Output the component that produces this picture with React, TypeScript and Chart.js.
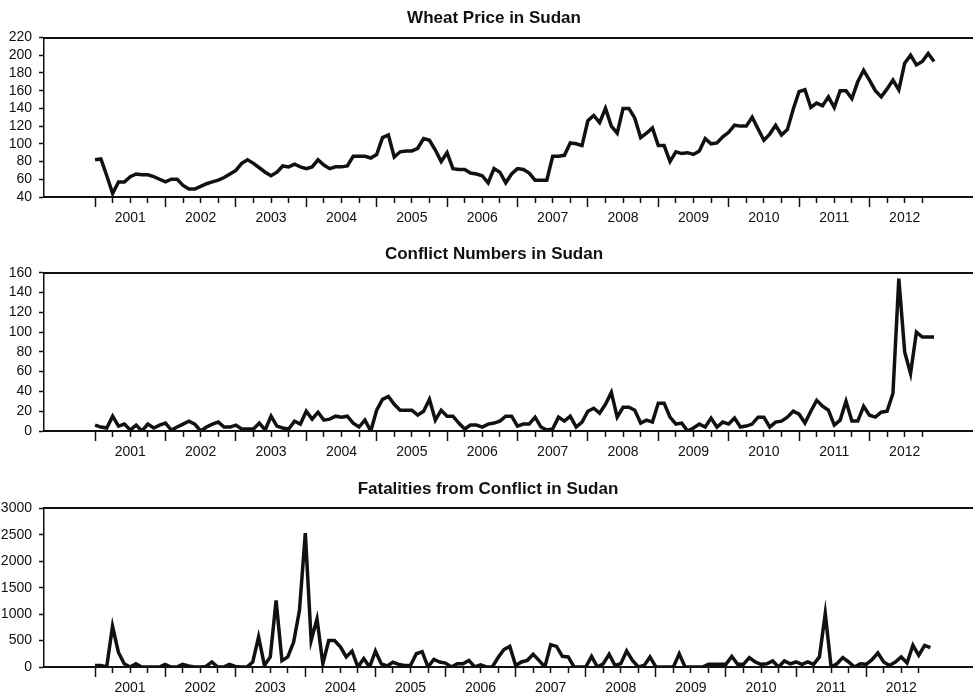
import React, { useEffect, useRef } from 'react';
import { Chart, registerables } from 'chart.js';

Chart.register(...registerables);

// ---------- data (monthly, Jan 2001 .. Dec 2012) ----------
const YEARS = ['2001', '2002', '2003', '2004', '2005', '2006', '2007', '2008', '2009', '2010', '2011', '2012'];

const WHEAT_PRICE = [
  82, 83, 64, 44, 57, 57, 63, 66, 65, 65, 63, 60,
  57, 60, 60, 53, 49, 49, 52, 55, 57, 59, 62, 66,
  70, 78, 82, 78, 73, 68, 64, 68, 75, 74, 77, 74,
  72, 74, 82, 76, 72, 74, 74, 75, 86, 86, 86, 84,
  88, 107, 110, 85, 91, 92, 92, 95, 106, 104, 93, 80,
  90, 72, 71, 71, 67, 66, 64, 56, 72, 68, 56, 66,
  72, 71, 67, 59, 59, 59, 86, 86, 87, 101, 100, 98,
  126, 132, 124, 140, 120, 112, 140, 140, 129, 107, 112, 118,
  98, 98, 80, 91, 89, 90, 88, 92, 106, 100, 101, 108,
  113, 121, 120, 120, 130, 117, 104, 111, 121, 110, 116, 139,
  159, 161, 141, 146, 143, 153, 141, 160, 160, 151, 170, 183,
  172, 160, 153, 162, 172, 161, 191, 200, 189, 193, 202, 193,
];

const CONFLICT_NUMBERS = [
  6, 4, 3, 15, 5, 7, 1, 6, 0, 7, 3, 6,
  8, 1, 4, 7, 10, 7, 0, 4, 7, 9, 4, 4,
  6, 2, 2, 2, 8, 1, 15, 5, 3, 2, 10, 7,
  20, 12, 19, 11, 12, 15, 14, 15, 8, 4, 11, 0,
  21, 32, 35, 27, 21, 21, 21, 16, 20, 32, 11, 21,
  15, 15, 8, 2, 6, 6, 4, 7, 8, 10, 15, 15,
  5, 7, 7, 14, 4, 1, 2, 14, 10, 15, 4, 9,
  20, 23, 18, 27, 39, 14, 24, 24, 21, 8, 11, 9,
  28, 28, 14, 7, 8, 0, 3, 7, 4, 13, 4, 9,
  7, 13, 4, 5, 7, 14, 14, 4, 9, 10, 14, 20,
  17, 8, 20, 31, 25, 21, 6, 11, 30, 10, 10, 25,
  16, 14, 19, 20, 38, 154, 80, 58, 100, 95, 95, 95,
];

const FATALITIES = [
  30, 30, 0, 770, 280, 60, 0, 60, 0, 0, 0, 0,
  50, 0, 0, 50, 20, 0, 0, 10, 95, 0, 0, 50,
  10, 0, 0, 95, 570, 30, 190, 1260, 120, 190, 470, 1070,
  2530, 500, 910, 60, 500, 500, 380, 190, 300, 0, 160, 0,
  300, 60, 20, 90, 50, 30, 30, 250, 290, 0, 145, 95,
  75, 0, 60, 60, 125, 0, 40, 0, 0, 180, 330, 390,
  30, 95, 126, 240, 126, 0, 423, 390, 202, 190, 0, 0,
  0, 202, 0, 63, 240, 30, 63, 303, 126, 0, 30, 190,
  0, 0, 0, 0, 250, 0, 0, 0, 0, 50, 50, 50,
  50, 200, 50, 50, 177, 95, 50, 60, 114, 0, 114, 60,
  95, 50, 95, 50, 190, 1010, 0, 60, 177, 95, 0, 60,
  50, 139, 265, 95, 30, 95, 190, 75, 410, 220, 410, 366,
];

const QUARTER_STARTS = [0, 3, 6, 9];

// ---------- styling ----------
const INK = '#111111';
const FONT = '"Liberation Sans", Arial, sans-serif';
Chart.defaults.font.family = FONT;
Chart.defaults.color = INK;

type PanelSpec = {
  title: string;
  values: number[];
  yMin: number;
  yMax: number;
  yStep: number;
  top: number;
  width: number;
  height: number;
  xMin: number;
  xMax: number;
  titlePadTop: number;
  titlePadBottom: number;
  xAxisHeight: number;
};

const PANELS: PanelSpec[] = [
  {
    title: 'Wheat Price in Sudan', values: WHEAT_PRICE, yMin: 40, yMax: 220, yStep: 20,
    top: 0, width: 988, height: 230, xMin: -8.7, xMax: 152.2, titlePadTop: 8, titlePadBottom: 9.1, xAxisHeight: 33,
  },
  {
    title: 'Conflict Numbers in Sudan', values: CONFLICT_NUMBERS, yMin: 0, yMax: 160, yStep: 20,
    top: 230, width: 988, height: 230, xMin: -8.7, xMax: 152.2, titlePadTop: 14.5, titlePadBottom: 7.8, xAxisHeight: 29,
  },
  {
    title: 'Fatalities from Conflict in Sudan', values: FATALITIES, yMin: 0, yMax: 3000, yStep: 500,
    top: 460, width: 976, height: 240, xMin: -8.73, xMax: 150.8, titlePadTop: 19.5, titlePadBottom: 8.4, xAxisHeight: 33,
  },
];

const tickMonths: number[] = [];
YEARS.forEach((_, yi) => QUARTER_STARTS.forEach((q) => tickMonths.push(yi * 12 + q)));

function Panel({ spec }: { spec: PanelSpec }) {
  const ref = useRef<HTMLCanvasElement>(null);
  useEffect(() => {
    const canvas = ref.current;
    if (!canvas) return;
    const chart = new Chart(canvas, {
      type: 'line',
      data: {
        datasets: [
          {
            data: spec.values.map((v, i) => ({ x: i, y: v })),
            borderColor: INK,
            borderWidth: 3.5,
            pointRadius: 0,
            tension: 0,
            fill: false,
          },
        ],
      },
      options: {
        responsive: false,
        animation: false,
        events: [],
        layout: { padding: 0 },
        plugins: {
          legend: { display: false },
          tooltip: { enabled: false },
          title: {
            display: true,
            text: spec.title,
            color: INK,
            font: { family: FONT, size: 17, weight: 'bold', lineHeight: 1.2 },
            padding: { top: spec.titlePadTop, bottom: spec.titlePadBottom },
          },
        },
        scales: {
          x: {
            type: 'linear',
            position: 'bottom',
            min: spec.xMin,
            max: spec.xMax,
            afterBuildTicks: (s: any) => {
              s.ticks = tickMonths.map((v) => ({ value: v }));
            },
            afterFit: (s: any) => {
              s.height = spec.xAxisHeight;
            },
            ticks: {
              autoSkip: false,
              maxRotation: 0,
              minRotation: 0,
              padding: 3,
              color: INK,
              font: { size: 14 },
              callback: (v: any) => (Number(v) % 12 === 6 ? YEARS[(Number(v) - 6) / 12] : ''),
            },
            grid: {
              display: true,
              drawOnChartArea: false,
              drawTicks: true,
              tickLength: 10,
              tickColor: INK,
              tickWidth: 1.5,
              tickBorderDash: (ctx: any) => (ctx.tick && ctx.tick.value % 12 === 0 ? [] : [5, 30]),
            },
            border: { display: true, color: INK, width: 2 },
          },
          xt: {
            type: 'linear',
            position: 'top',
            min: spec.xMin,
            max: spec.xMax,
            ticks: { display: false },
            grid: { display: false, drawTicks: false },
            border: { display: true, color: INK, width: 2 },
            afterFit: (s: any) => {
              s.height = 0;
            },
          },
          y: {
            type: 'linear',
            position: 'left',
            min: spec.yMin,
            max: spec.yMax,
            ticks: {
              stepSize: spec.yStep,
              autoSkip: false,
              padding: 7,
              color: INK,
              font: { size: 14 },
              callback: (v: any) => String(v),
            },
            grid: {
              drawOnChartArea: false,
              drawTicks: true,
              tickLength: 5,
              tickColor: INK,
              tickWidth: 1.5,
            },
            border: { display: true, color: INK, width: 1.5 },
            afterFit: (s: any) => {
              s.width = 44;
            },
          },
        },
      } as any,
    });
    return () => chart.destroy();
  }, [spec]);
  return (
    <canvas
      ref={ref}
      width={spec.width}
      height={spec.height}
      style={{ position: 'absolute', left: 0, top: spec.top, display: 'block' }}
    />
  );
}

export default function App() {
  return (
    <div style={{ position: 'absolute', left: 0, top: 0, width: 973, height: 700, background: '#ffffff', overflow: 'hidden' }}>
      {PANELS.map((p) => (
        <Panel key={p.title} spec={p} />
      ))}
    </div>
  );
}
